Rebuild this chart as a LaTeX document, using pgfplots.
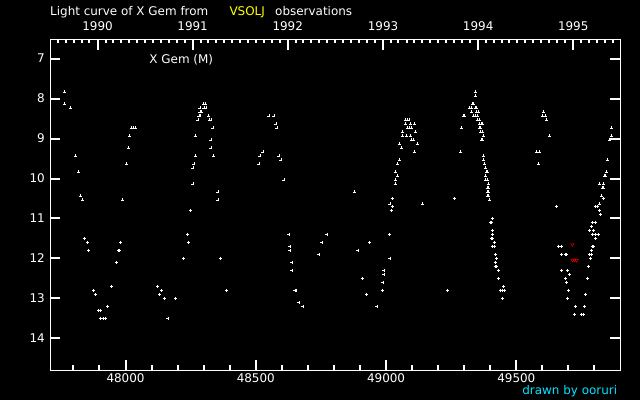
\documentclass[border=0pt]{standalone}
\usepackage{fontspec}
\setmainfont{DejaVu Sans}
\usepackage{pgfplots}
\pgfplotsset{compat=1.18}
\definecolor{ttlyel}{RGB}{255,255,0}
\definecolor{sigcyan}{RGB}{0,230,255}
\newcommand{\lf}{\fontsize{12}{14}\selectfont}
\begin{document}
\begin{tikzpicture}
\fill[black] (-50bp,-30bp) rectangle (590bp,370bp);
\path[use as bounding box] (-50bp,-30bp) rectangle (590bp,370bp);
\begin{axis}[at={(0,0)}, anchor=south west, scale only axis,
  width=570bp, height=330bp,
  xmin=47710, xmax=49898, ymin=6.535, ymax=14.79, y dir=reverse,
  scaled x ticks=false, scaled y ticks=false,
  axis line style={draw=white, line width=1bp},
  tick style={draw=white, line width=2bp},
  tick align=inside,
  major tick length=10bp,
  minor tick length=5bp,
  xtick pos=left,
  ytick pos=both,
  yticklabel pos=left,
  xtick={48000,48500,49000,49500},
  xticklabels={48000,48500,49000,49500},
  minor xtick={47800,47900,48100,48200,48300,48400,48600,48700,48800,48900,49100,49200,49300,49400,49600,49700,49800},
  ytick={7,8,9,10,11,12,13,14},
  yticklabels={7,8,9,10,11,12,13,14},
  xticklabel style={font=\lf, text=white, anchor=north, inner sep=0pt, yshift=-3.5bp},
  yticklabel style={font=\lf, text=white, anchor=east, inner sep=0pt, xshift=-5bp},
]
\addplot[only marks, white, mark=+, mark size=1.5bp] table[x=jd, y=mag] {
jd mag
47765 7.83
47765 8.13
47788 8.23
47808 9.43
47819 9.83
47827 10.43
47835 10.53
47842 11.5
47854 11.6
47858 11.8
47877 12.8
47885 12.9
47896 13.3
47904 13.3
47904 13.5
47915 13.5
47923 13.5
47931 13.2
47946 12.7
47965 12.1
47973 11.8
47977 11.8
47981 11.6
47988 10.53
48004 9.63
48012 9.23
48015 8.93
48023 8.73
48031 8.73
48038 8.73
48123 12.7
48131 12.9
48138 12.8
48150 13.0
48162 13.5
48192 13.0
48223 12.0
48238 11.4
48242 11.6
48250 10.8
48258 10.13
48258 9.73
48262 9.63
48269 9.43
48269 8.93
48277 8.53
48281 8.43
48285 8.43
48285 8.33
48292 8.33
48285 8.23
48298 8.13
48306 8.13
48300 8.23
48308 8.23
48319 8.43
48323 8.53
48327 8.53
48335 8.73
48327 9.03
48327 9.23
48338 9.43
48354 10.33
48354 10.53
48365 12.0
48388 12.8
48512 9.63
48515 9.43
48527 9.33
48550 8.43
48569 8.43
48577 8.63
48581 8.73
48588 9.43
48596 9.53
48608 10.03
48627 11.4
48631 11.7
48631 11.8
48638 12.1
48638 12.3
48650 12.8
48654 12.8
48665 13.1
48681 13.2
48742 11.9
48754 11.6
48773 11.4
48877 10.33
48892 11.8
48908 12.5
48923 12.9
48935 11.6
48965 13.2
48985 12.8
48988 12.6
48992 12.4
48992 12.3
49015 12.0
49012 11.4
49019 10.8
49023 10.7
49015 10.63
49023 10.5
49035 10.13
49035 10.03
49043 9.93
49035 9.83
49043 9.63
49050 9.53
49058 9.23
49050 9.13
49062 8.93
49077 8.93
49092 8.93
49062 8.83
49112 8.83
49081 8.73
49088 8.73
49096 8.73
49073 8.63
49092 8.63
49108 8.63
49073 8.53
49081 8.53
49088 8.53
49096 9.03
49104 9.03
49119 9.13
49108 9.33
49138 10.63
49235 12.8
49262 10.5
49285 9.33
49288 8.73
49296 8.43
49300 8.43
49342 7.83
49342 7.93
49331 8.13
49335 8.13
49319 8.23
49327 8.23
49342 8.23
49346 8.23
49327 8.33
49346 8.33
49354 8.33
49335 8.43
49342 8.43
49350 8.43
49350 8.53
49358 8.53
49358 8.63
49365 8.63
49369 8.63
49358 8.73
49362 8.73
49362 8.83
49369 8.83
49373 8.93
49365 9.03
49369 9.03
49373 9.43
49373 9.53
49377 9.63
49381 9.73
49385 9.83
49388 9.83
49381 9.93
49381 10.03
49388 10.03
49392 10.13
49388 10.23
49392 10.23
49388 10.33
49392 10.33
49388 10.43
49392 10.43
49396 10.53
49408 11.0
49400 11.1
49404 11.1
49408 11.3
49408 11.4
49404 11.5
49408 11.5
49415 11.6
49408 11.7
49415 11.7
49419 11.9
49423 12.0
49419 12.1
49419 12.2
49423 12.2
49431 12.3
49431 12.5
49450 12.7
49438 12.8
49446 12.8
49454 12.8
49446 13.0
49577 9.33
49588 9.33
49585 9.63
49600 8.43
49604 8.33
49612 8.43
49615 8.53
49627 8.93
49654 10.7
49662 11.7
49673 11.7
49673 11.9
49688 11.9
49692 11.9
49673 12.3
49696 12.3
49704 12.4
49688 12.5
49692 12.6
49700 12.8
49696 13.0
49727 13.2
49723 13.4
49750 13.4
49758 13.4
49762 13.2
49765 12.9
49773 12.5
49777 12.2
49785 12.0
49781 11.9
49788 11.9
49788 11.8
49792 11.7
49796 11.7
49804 11.5
49792 11.4
49804 11.4
49815 11.4
49781 11.3
49796 11.3
49788 11.2
49792 11.1
49804 11.1
49823 10.9
49819 10.8
49804 10.7
49811 10.7
49819 10.63
49835 10.5
49827 10.43
49831 10.23
49835 10.23
49819 10.13
49835 10.13
49838 9.93
49842 9.93
49846 9.83
49850 9.53
49858 9.03
49865 8.93
49865 8.73
};
\addplot[only marks, red, mark=triangle, mark size=2bp, mark options={rotate=180}] table[x=jd, y=mag] {
jd mag
49715 11.65
49716 12.04
49724 12.04
49731 12.04
};
\node[font=\lf, text=white] at (axis cs:48214,7.02) {X Gem (M)};
\end{axis}
\begin{axis}[at={(0,0)}, anchor=south west, scale only axis,
  width=570bp, height=330bp,
  xmin=47710, xmax=49898, ymin=6.535, ymax=14.79, y dir=reverse,
  scaled x ticks=false,
  axis line style={draw=white, line width=1bp},
  tick style={draw=white, line width=2bp},
  tick align=inside,
  major tick length=10bp,
  minor tick length=3bp,
  ytick=\empty,
  xtick pos=top,
  xticklabel pos=top,
  xtick={47892.5,48257.5,48622.5,48988.5,49353.5,49718.5},
  xticklabels={1990,1991,1992,1993,1994,1995},
  minor xtick={47739.5,47770.5,47800.5,47831.5,47861.5,
    47923.5,47951.5,47982.5,48012.5,48043.5,48073.5,48104.5,48135.5,48165.5,48196.5,48226.5,
    48288.5,48316.5,48347.5,48377.5,48408.5,48438.5,48469.5,48500.5,48530.5,48561.5,48591.5,
    48653.5,48682.5,48713.5,48743.5,48774.5,48804.5,48835.5,48866.5,48896.5,48927.5,48957.5,
    49019.5,49047.5,49078.5,49108.5,49139.5,49169.5,49200.5,49231.5,49261.5,49292.5,49322.5,
    49384.5,49412.5,49443.5,49473.5,49504.5,49534.5,49565.5,49596.5,49626.5,49657.5,49687.5,
    49749.5,49777.5,49808.5,49838.5,49869.5},
  xticklabel style={font=\lf, text=white, anchor=south, inner sep=0pt, yshift=8.7bp},
]
\addplot[draw=none] coordinates {(48000,10)};
\end{axis}
\node[font=\lf, text=white, anchor=base west, inner sep=0pt] at (0bp,354bp) {Light curve of X Gem from};
\node[font=\lf, text=ttlyel, anchor=base west, inner sep=0pt] at (179.3bp,354bp) {VSOLJ};
\node[font=\lf, text=white, anchor=base west, inner sep=0pt] at (225bp,354bp) {observations};
\node[font=\lf, text=sigcyan, anchor=base east, inner sep=0pt] at (567.3bp,-24.3bp) {drawn by ooruri};
\end{tikzpicture}
\end{document}
